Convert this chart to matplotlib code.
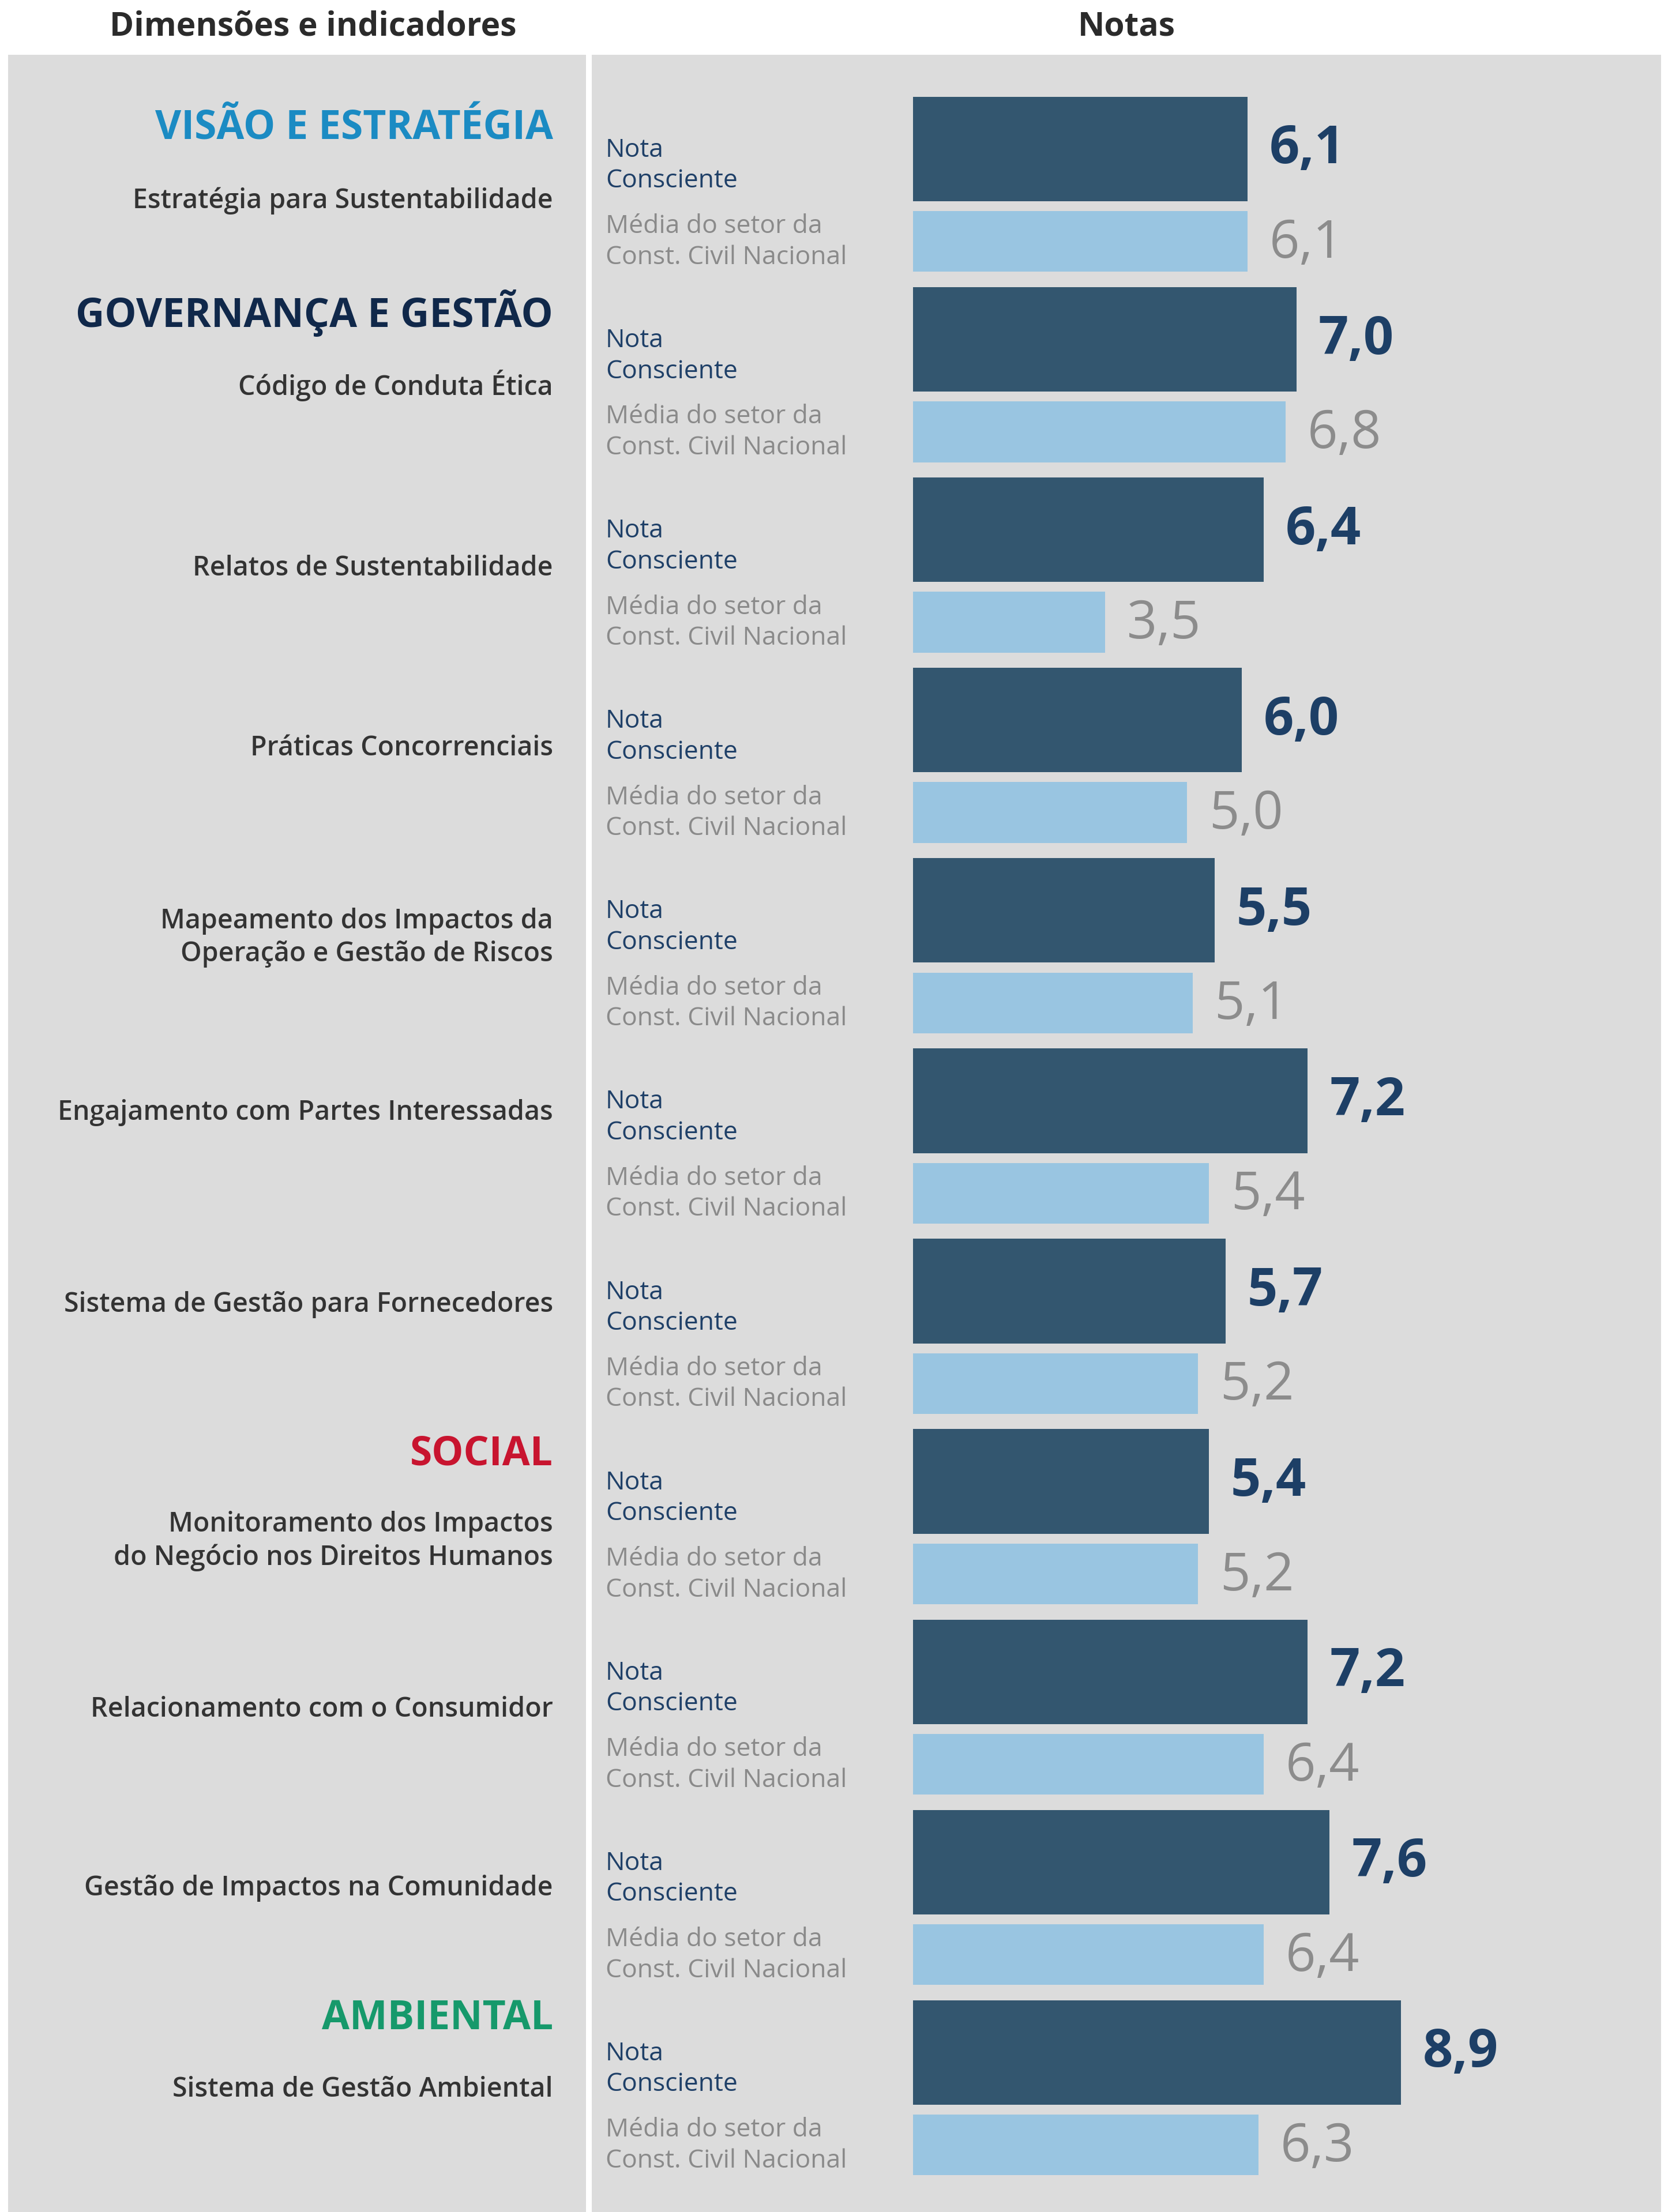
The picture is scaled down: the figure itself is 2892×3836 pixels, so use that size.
# indicadores de sustentabilidade: nota da empresa vs media do setor

import matplotlib.pyplot as plt
from matplotlib.patches import Rectangle

indicadores = [
    "Estratégia para Sustentabilidade",
    "Código de Conduta Ética",
    "Relatos de Sustentabilidade",
    "Práticas Concorrenciais",
    "Mapeamento dos Impactos da\nOperação e Gestão de Riscos",
    "Engajamento com Partes Interessadas",
    "Sistema de Gestão para Fornecedores",
    "Monitoramento dos Impactos\ndo Negócio nos Direitos Humanos",
    "Relacionamento com o Consumidor",
    "Gestão de Impactos na Comunidade",
    "Sistema de Gestão Ambiental",
]
nota = [6.1, 7.0, 6.4, 6.0, 5.5, 7.2, 5.7, 5.4, 7.2, 7.6, 8.9]
media = [6.1, 6.8, 3.5, 5.0, 5.1, 5.4, 5.2, 5.2, 6.4, 6.4, 6.3]

# dimensoes: (nome, indice do primeiro indicador, cor)
dimensoes = [
    ("VISÃO E ESTRATÉGIA", 0, "#1b8bc3"),
    ("GOVERNANÇA E GESTÃO", 1, "#10284a"),
    ("SOCIAL", 7, "#c8142f"),
    ("AMBIENTAL", 10, "#16996b"),
]

# layout (pixels of the final image)
W, H = 2892, 3837
dpi = 100
px_unit = 95.0          # pixels per score point
bar_x0 = 1583           # where bars start
row_px = 330.1          # distance between groups
row0_px = 259.4         # centre of first dark bar
panel_top = 96

# vertical offsets (row units) of the left-hand labels
label_dy = [0.27, 0.24, 0.20, 0.145, 0.14, 0.06, 0.067, 0.31, 0.195, 0.135, 0.19]
dim_dy = [-0.11, -0.14, -0.145, -0.18]

bg = "#dcdcdc"
dark = "#33566f"
light = "#99c5e1"

plt.rcParams['font.family'] = ['Open Sans', 'DejaVu Sans']

fig = plt.figure(figsize=(W / dpi, H / dpi), dpi=dpi)
fig.patch.set_facecolor("white")

def fig_box(x0, x1, y0, y1):
    return [x0 / W, 1 - y1 / H, (x1 - x0) / W, (y1 - y0) / H]

ylim = ((H - row0_px) / row_px, (panel_top - row0_px) / row_px)

# left panel
axl = fig.add_axes(fig_box(14, 1016, panel_top, H))
axl.set_xlim(14, 1016)
axl.set_ylim(*ylim)
axl.axis("off")
axl.add_patch(Rectangle((0, 0), 1, 1, transform=axl.transAxes, color=bg, zorder=0))

# right panel
ax = fig.add_axes(fig_box(1026, 2880, panel_top, H))
ax.set_facecolor(bg)
ax.set_xlim((1026 - bar_x0) / px_unit, (2880 - bar_x0) / px_unit)
ax.set_ylim(*ylim)
for s in ax.spines.values():
    s.set_visible(False)
ax.set_xticks([])
ax.set_yticks([])

rows = list(range(len(nota)))
h_dark = 0.549
h_light = 0.319
off_light = 0.486
ax.barh(rows, nota, height=h_dark, left=0, color=dark)
ax.barh([r + off_light for r in rows], media, height=h_light, left=0, color=light)

lab_x = (1050 - bar_x0) / px_unit
gap = 0.40
for i in rows:
    ax.text(lab_x, i + 0.085, "Nota\nConsciente", ha="left", va="center",
            fontsize=32, color="#1f4068", linespacing=1.27)
    ax.text(lab_x, i + off_light, "Média do setor da\nConst. Civil Nacional",
            ha="left", va="center", fontsize=32, color="#8a8a8a", linespacing=1.27)
    ax.text(nota[i] + gap, i, f"{nota[i]:.1f}".replace(".", ","),
            ha="left", va="center", fontsize=66, fontweight="bold", color="#1d3f66")
    ax.text(media[i] + gap, i + off_light + 0.01, f"{media[i]:.1f}".replace(".", ","),
            ha="left", va="center", fontsize=66, fontweight="medium", color="#8c8c8c")

    axl.text(959, i + label_dy[i], indicadores[i], ha="right", va="center",
             fontsize=33.5, fontweight="semibold", color="#333333", linespacing=1.3)

for (nome, idx, cor), dy in zip(dimensoes, dim_dy):
    axl.text(959, idx + dy, nome, ha="right", va="center",
             fontsize=50, fontweight="bold", color=cor)

# column titles
fig.text(543 / W, 1 - 46 / H, "Dimensões e indicadores", ha="center", va="center",
         fontsize=41, fontweight="bold", color="#2b2b2b")
fig.text(1953 / W, 1 - 46 / H, "Notas", ha="center", va="center",
         fontsize=41, fontweight="bold", color="#2b2b2b")

fig.savefig("out.png", dpi=dpi, facecolor=fig.get_facecolor())
